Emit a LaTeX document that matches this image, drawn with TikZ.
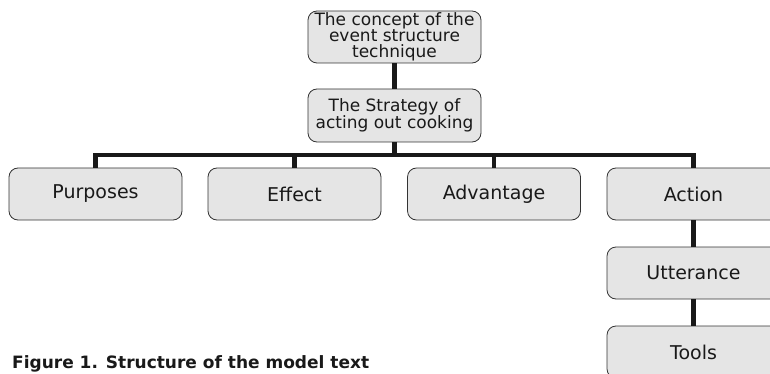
\documentclass[tikz,border=0pt]{standalone}
\usepackage{fontspec}
\setmainfont{DejaVu Sans}
\begin{document}
\begin{tikzpicture}[x=1pt,y=-1pt,
  box/.style={draw=black!80,line width=0.8pt,fill=black!10,rounded corners=9pt,
    minimum width=173pt,inner sep=0pt,align=center,text=black!90},
  rowbox/.style={box,minimum height=52pt,font=\fontsize{19}{21}\selectfont},
  topbox/.style={box,minimum height=52pt,font=\fontsize{17}{16.2}\selectfont},
  conn/.style={line width=4.5pt,draw=black!90,line join=miter}]
\useasboundingbox (0,0) rectangle (770,374);
\clip (0,0) rectangle (770,374);
\node[topbox] (top) at (394.5,37) {The concept of the\\event structure\\technique};
\node[topbox,minimum height=53pt] (strat) at (394.5,115.5) {The Strategy of\\acting out cooking};
\node[rowbox] (purp) at (95.5,194) {Purposes};
\node[rowbox] (eff) at (294.5,194) {Effect};
\node[rowbox] (adv) at (494,194) {Advantage};
\node[rowbox] (act) at (693.5,194) {Action};
\node[rowbox] (utt) at (693.5,273) {Utterance};
\node[rowbox] (tools) at (693.5,352) {Tools};
\coordinate (bus) at (394.5,155);
\draw[conn] (top.south) -- (strat.north);
\draw[conn] (strat.south) -- (bus);
\draw[conn] (purp.north) |- (bus) -| (act.north);
\draw[conn] (eff.north) -- (eff.north |- bus);
\draw[conn] (adv.north) -- (adv.north |- bus);
\draw[conn] (act.south) -- (utt.north);
\draw[conn] (utt.south) -- (tools.north);
\node[anchor=base west,inner sep=0pt,font=\bfseries\fontsize{17}{19}\selectfont,text=black!90] (cap) at (12,368.5) {Figure 1. Structure of the model text};
\end{tikzpicture}
\end{document}
